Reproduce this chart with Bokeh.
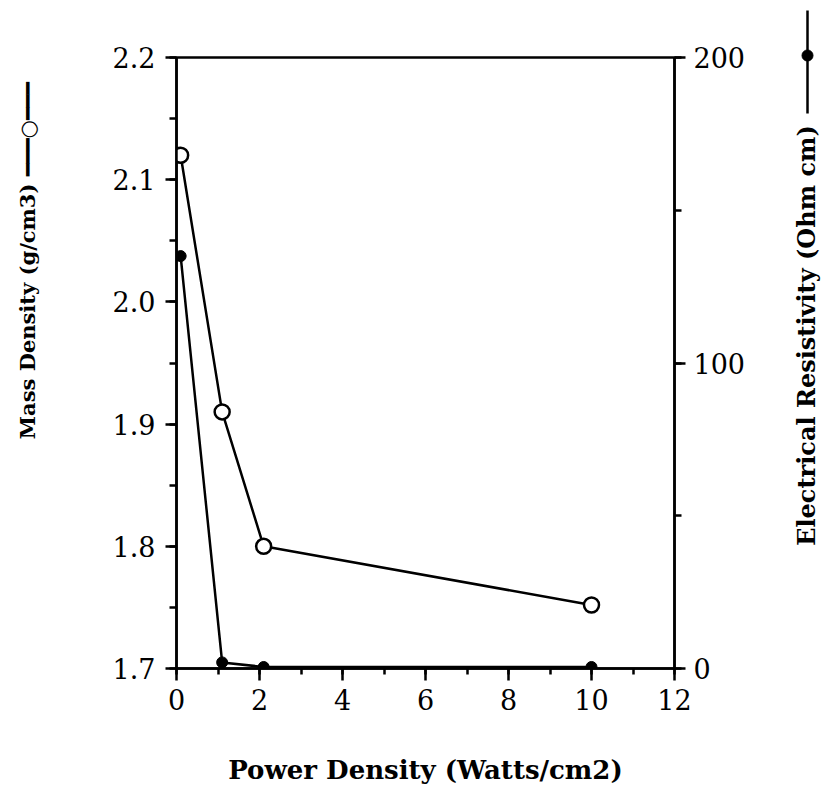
import math
from bokeh.plotting import figure
from bokeh.layouts import row
from bokeh.models import Range1d, LinearAxis, SingleIntervalTicker, PrintfTickFormatter
from bokeh.core.properties import value
from bokeh.embed import file_html
from bokeh.resources import INLINE

# data
power = [0.1, 1.1, 2.1, 10.0]
mass_density = [2.12, 1.91, 1.80, 1.752]
resistivity = [135.0, 2.0, 0.5, 0.5]

x_label = "Power Density (Watts/cm2)"
left_label = "Mass Density (g/cm3)"
right_label = "Electrical Resistivity (Ohm cm)"

FONT = "DejaVu Serif"
W, H = 750, 800          # main figure
W2 = 75                  # side strip holding the right-hand title
FL, FR, FT, FB = 176, 674, 57, 668  # frame edges in page pixels

NB = "\u00A0"
LINE = "\u2501"

p = figure(width=W, height=H, output_backend="svg", toolbar_location=None,
           x_range=Range1d(0, 12), y_range=Range1d(1.7, 2.2),
           min_border_left=FL, min_border_right=W - FR, min_border_top=FT, min_border_bottom=H - FB)
p.extra_y_ranges = {"res": Range1d(0, 200)}
p.grid.visible = False
p.outline_line_color = "black"
p.outline_line_width = 2.5
p.frame_align = False

def style(ax, major_out, minor_out, label_size):
    ax.axis_line_width = 2.5
    ax.axis_line_color = "black"
    ax.major_tick_line_width = 2.5
    ax.minor_tick_line_width = 2.5
    ax.major_tick_out = major_out
    ax.major_tick_in = 0
    ax.minor_tick_out = minor_out
    ax.minor_tick_in = 0
    ax.major_label_text_font = FONT
    ax.major_label_text_font_size = "27px"
    ax.major_label_text_color = "black"
    ax.axis_label_text_font = FONT
    ax.axis_label_text_font_style = "bold"
    ax.axis_label_text_font_size = label_size
    ax.axis_label_text_color = "black"

p.xaxis.ticker = SingleIntervalTicker(interval=2, num_minor_ticks=2)
style(p.xaxis[0], 12, 6, "26px")
p.xaxis.major_label_standoff = 8
p.xaxis.axis_label = x_label
p.xaxis.axis_label_standoff = 42

p.yaxis.ticker = SingleIntervalTicker(interval=0.1, num_minor_ticks=2)
p.yaxis.formatter = PrintfTickFormatter(format="%.1f")
style(p.yaxis[0], 11, 7, "21px")
p.yaxis.major_label_standoff = 10
p.yaxis.axis_label = NB * 28 + left_label + NB + LINE * 3 + "\u25CB" + LINE * 3
p.yaxis.axis_label_standoff = 70

rax = LinearAxis(y_range_name="res", ticker=SingleIntervalTicker(interval=100, num_minor_ticks=2))
style(rax, 11, 7, "22px")
rax.major_label_standoff = 8
p.add_layout(rax, "right")

# series
p.line(power, resistivity, y_range_name="res", line_color="black", line_width=2.5)
p.scatter(power, resistivity, y_range_name="res", size=11, fill_color="black", line_color="black")
p.line(power, mass_density, line_color="black", line_width=2.5)
p.scatter(power, mass_density, size=15, fill_color="white", line_color="black", line_width=2.5)

# side strip for the right-hand axis title (coordinates = page pixels, y measured upward)
q = figure(width=W2, height=H, output_backend="svg", toolbar_location=None,
           x_range=Range1d(W, W + W2), y_range=Range1d(0, H),
           x_axis_type=None, y_axis_type=None, min_border=0)
q.grid.visible = False
q.outline_line_color = None
q.frame_align = False

def up(py):
    return H - py

q.text(x=[806], y=[up(335)], text=[right_label], angle=math.pi / 2,
       text_font=value(FONT), text_font_style="bold", text_font_size="24px",
       text_color="black", text_align="center", text_baseline="middle")
q.line(x=[807, 807], y=[up(10), up(113)], line_color="black", line_width=2.5)
q.scatter(x=[807], y=[up(55)], size=11, fill_color="black", line_color="black")

open("out.html", "w").write(file_html(row(p, q), INLINE))
